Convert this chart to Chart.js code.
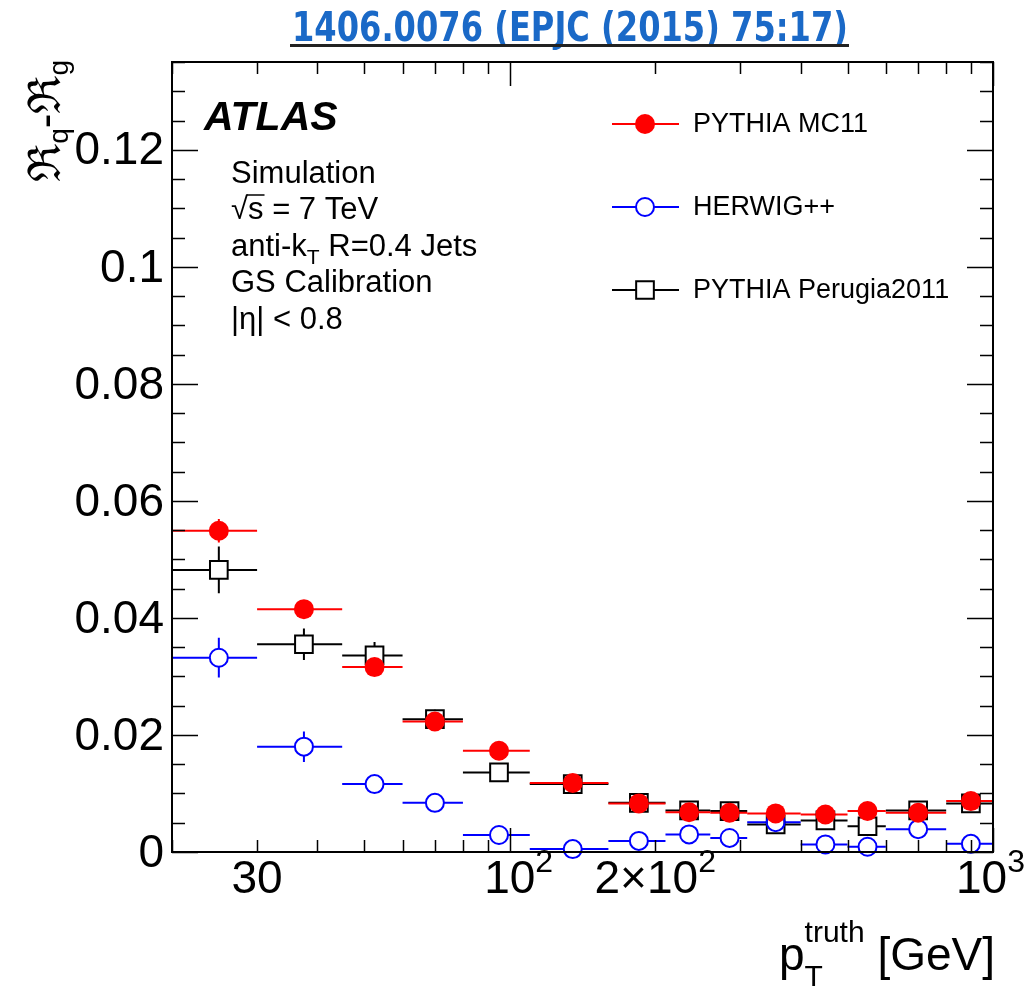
<!DOCTYPE html>
<html>
<head>
<meta charset="utf-8">
<script src="https://cdn.jsdelivr.net/npm/chart.js@4.4.0/dist/chart.umd.min.js"></script>
<style>
  html, body { margin: 0; padding: 0; background: #fff; }
</style>
</head>
<body>
<canvas id="chart" width="1031" height="989"></canvas>
<script>
// bins in pT (GeV)
const binLow     = [20, 30, 45, 60, 80, 110, 160, 210, 260, 310, 400, 500, 600, 800];
const binHigh    = [30, 45, 60, 80, 110, 160, 210, 260, 310, 400, 500, 600, 800, 1000];
const binCenters = [25, 37.5, 52.5, 70, 95, 135, 185, 235, 285, 355, 450, 550, 700, 900];

// Rq - Rg per generator
const pythiaMC11    = [0.0549, 0.0415, 0.0316, 0.0223, 0.0173, 0.0118, 0.0083, 0.0068, 0.0067, 0.0066, 0.0064, 0.0070, 0.0067, 0.0087];
const pythiaMC11Err = [0.0020, 0.0008, 0.0008, 0.0006, 0.0005, 0.0004, 0.0004, 0.0004, 0.0004, 0.0004, 0.0004, 0.0004, 0.0004, 0.0005];
const herwig        = [0.0332, 0.0180, 0.0116, 0.0084, 0.0029, 0.0005, 0.0019, 0.0030, 0.0024, 0.0051, 0.0013, 0.0009, 0.0039, 0.0014];
const herwigErr     = [0.0034, 0.0026, 0.0015, 0.0010, 0.0008, 0.0005, 0.0005, 0.0005, 0.0005, 0.0005, 0.0005, 0.0005, 0.0005, 0.0005];
const perugia       = [0.0482, 0.0355, 0.0336, 0.0227, 0.0136, 0.0116, 0.0084, 0.0071, 0.0070, 0.0047, 0.0054, 0.0044, 0.0071, 0.0083];
const perugiaErr    = [0.0040, 0.0027, 0.0023, 0.0016, 0.0009, 0.0006, 0.0005, 0.0005, 0.0005, 0.0005, 0.0005, 0.0005, 0.0005, 0.0005];

// axis ticks / labels
const yTickValues = [0, 0.02, 0.04, 0.06, 0.08, 0.1, 0.12];
const yTickLabels = ["0", "0.02", "0.04", "0.06", "0.08", "0.1", "0.12"];
const xMajorTicks = [100, 1000];
const xMinorTicks = [20, 30, 40, 50, 60, 70, 80, 90, 200, 300, 400, 500, 600, 700, 800, 900];
const xLabelValues = [30, 100, 200, 1000];
const xLabelBase   = ["30", "10", "2\u00d710", "10"];
const xLabelSup    = ["", "2", "2", "3"];

const infoLines = ["Simulation", "\u221as = 7 TeV", "anti-k_T R=0.4 Jets", "GS Calibration", "|\u03b7| < 0.8"];
const headerText = "1406.0076 (EPJC (2015) 75:17)";

const FONT = '"Liberation Sans", Arial, Helvetica, sans-serif';
function font(size, style) {
    return (style ? style + " " : "") + size + "px " + FONT;
}

// draws a sequence of text pieces (with optional vertical shift)
function drawParts(ctx, parts, x, y, align) {
    let total = 0;
    parts.forEach(p => {
        ctx.font = font(p.size, p.style);
        p.w = ctx.measureText(p.text).width;
        total += p.w;
    });
    let cx = x;
    if (align === "right") cx = x - total;
    if (align === "center") cx = x - total / 2;
    ctx.textAlign = "left";
    parts.forEach(p => {
        ctx.font = font(p.size, p.style);
        ctx.fillText(p.text, cx, y + (p.dy || 0));
        cx += p.w;
    });
    return total;
}

function drawMarker(ctx, ds, x, y) {
    ctx.save();
    ctx.lineWidth = ds.pointBorderWidth;
    ctx.strokeStyle = ds.pointBorderColor;
    ctx.fillStyle = ds.pointBackgroundColor;
    ctx.beginPath();
    if (ds.pointStyle === "rect") {
        const s = ds.pointRadius * Math.SQRT1_2;
        ctx.rect(x - s, y - s, 2 * s, 2 * s);
    } else {
        ctx.arc(x, y, ds.pointRadius, 0, Math.PI * 2);
    }
    ctx.fill();
    if (ds.pointBorderWidth > 0) ctx.stroke();
    ctx.restore();
}

// ROOT-like frame, ticks, error bars, labels and legend
const rootStyle = {
    id: "rootStyle",
    beforeDatasetsDraw(chart) {
        const ctx = chart.ctx;
        const xs = chart.scales.x, ys = chart.scales.y;
        ctx.save();
        // black first, red last (on top)
        for (let d = chart.data.datasets.length - 1; d >= 0; d--) {
            const ds = chart.data.datasets[d];
            ctx.strokeStyle = ds.pointBorderColor;
            ctx.lineWidth = 2;
            ds.data.forEach((pt, i) => {
                const px = xs.getPixelForValue(pt.x);
                const py = ys.getPixelForValue(pt.y);
                const x1 = xs.getPixelForValue(binLow[i]);
                const x2 = xs.getPixelForValue(binHigh[i]);
                const yTop = ys.getPixelForValue(pt.y + ds.errY[i]);
                const yBot = ys.getPixelForValue(pt.y - ds.errY[i]);
                const gap = ds.barGap;
                ctx.beginPath();
                ctx.moveTo(x1, py); ctx.lineTo(px - gap, py);
                ctx.moveTo(px + gap, py); ctx.lineTo(x2, py);
                if (py - yTop > gap) {
                    ctx.moveTo(px, yTop); ctx.lineTo(px, py - gap);
                    ctx.moveTo(px, py + gap); ctx.lineTo(px, yBot);
                }
                ctx.stroke();
            });
        }
        ctx.restore();
    },
    afterDraw(chart) {
        const ctx = chart.ctx;
        const xs = chart.scales.x, ys = chart.scales.y;
        const a = chart.chartArea;
        ctx.save();
        ctx.strokeStyle = "#000";
        ctx.fillStyle = "#000";

        // frame
        ctx.lineWidth = 2;
        ctx.strokeRect(a.left, a.top, a.right - a.left, a.bottom - a.top);

        // y ticks (left and right, inward)
        ctx.lineWidth = 1.5;
        ctx.beginPath();
        for (let v = 0; v <= ys.max + 1e-9; v += 0.005) {
            const py = Math.round(ys.getPixelForValue(v)) + 0.5;
            const major = Math.abs(v / 0.02 - Math.round(v / 0.02)) < 1e-6;
            const len = major ? 26 : 13;
            ctx.moveTo(a.left, py); ctx.lineTo(a.left + len, py);
            ctx.moveTo(a.right, py); ctx.lineTo(a.right - len, py);
        }
        // x ticks (bottom and top, inward)
        xMinorTicks.concat(xMajorTicks).forEach(v => {
            const px = Math.round(xs.getPixelForValue(v)) + 0.5;
            const len = xMajorTicks.includes(v) ? 24 : 12;
            ctx.moveTo(px, a.bottom); ctx.lineTo(px, a.bottom - len);
            ctx.moveTo(px, a.top); ctx.lineTo(px, a.top + len);
        });
        ctx.stroke();

        // y tick labels
        ctx.textBaseline = "middle";
        ctx.textAlign = "right";
        ctx.font = font(46);
        yTickValues.forEach((v, i) => {
            ctx.fillText(yTickLabels[i], 164, ys.getPixelForValue(v) + 2);
        });

        // x tick labels
        ctx.textBaseline = "alphabetic";
        xLabelValues.forEach((v, i) => {
            const px = xs.getPixelForValue(v);
            ctx.font = font(46);
            const wb = ctx.measureText(xLabelBase[i]).width;
            ctx.font = font(32);
            const ws = xLabelSup[i] ? ctx.measureText(xLabelSup[i]).width : 0;
            let start = xLabelBase[i] === "10" ? px - wb / 2 : px - (wb + ws) / 2;
            start = Math.min(start, chart.width - 6 - wb - ws);
            drawParts(ctx, [
                { text: xLabelBase[i], size: 46 },
                { text: xLabelSup[i], size: 32, dy: -21 }
            ], start, 893, "left");
        });

        // x axis title: p_T^truth [GeV]
        ctx.font = font(30);
        const wTruth = ctx.measureText("truth").width;
        ctx.font = font(46);
        const wGeV = ctx.measureText(" [GeV]").width;
        const wp = ctx.measureText("p").width;
        const xEnd = 995;
        const xGeV = xEnd - wGeV;
        const xSup = xGeV - wTruth;
        const xP = xSup - wp;
        const base = 970;
        ctx.textAlign = "left";
        ctx.font = font(46);
        ctx.fillText("p", xP, base);
        ctx.fillText(" [GeV]", xGeV, base);
        ctx.font = font(30);
        ctx.fillText("truth", xSup, base - 28);
        ctx.fillText("T", xSup, base + 16);

        // y axis title (rotated)
        ctx.save();
        ctx.translate(60, 60);
        ctx.rotate(-Math.PI / 2);
        drawParts(ctx, [
            { text: "\u211c", size: 45 },
            { text: "q", size: 28, dy: 8 },
            { text: "-", size: 44 },
            { text: "\u211c", size: 45 },
            { text: "g", size: 28, dy: 8 }
        ], 0, 0, "right");
        ctx.restore();

        // ATLAS label
        ctx.textAlign = "left";
        ctx.font = font(41, "bold italic");
        ctx.fillText("ATLAS", 204, 130);

        // info text
        const infoX = 231;
        const infoSize = 31;
        const infoBase = [183, 219, 256, 292, 329];
        ctx.font = font(infoSize);
        ctx.fillText(infoLines[0], infoX, infoBase[0]);
        // sqrt(s) with overline
        ctx.fillText("\u221a", infoX, infoBase[1]);
        const wRad = ctx.measureText("\u221a").width;
        const wS = ctx.measureText("s").width;
        ctx.fillText("s = 7 TeV", infoX + wRad, infoBase[1]);
        ctx.lineWidth = 1.5;
        ctx.beginPath();
        ctx.moveTo(infoX + wRad - 1, infoBase[1] - 24);
        ctx.lineTo(infoX + wRad + wS + 1, infoBase[1] - 24);
        ctx.stroke();
        drawParts(ctx, [
            { text: "anti-k", size: infoSize },
            { text: "T", size: 21, dy: 8 },
            { text: " R=0.4 Jets", size: infoSize }
        ], infoX, infoBase[2], "left");
        ctx.font = font(infoSize);
        ctx.fillText(infoLines[3], infoX, infoBase[3]);
        ctx.fillText(infoLines[4], infoX, infoBase[4]);

        // legend
        const legendY = [124, 207, 290];
        chart.data.datasets.forEach((ds, i) => {
            const y = legendY[i];
            const x1 = 612, x2 = 679, xm = 645;
            ctx.strokeStyle = ds.pointBorderColor;
            ctx.lineWidth = 2;
            ctx.beginPath();
            ctx.moveTo(x1, y); ctx.lineTo(xm - ds.barGap, y);
            ctx.moveTo(xm + ds.barGap, y); ctx.lineTo(x2, y);
            ctx.stroke();
            drawMarker(ctx, ds, xm, y);
            ctx.fillStyle = "#000";
            ctx.font = font(27);
            ctx.textBaseline = "middle";
            ctx.fillText(ds.label, 693, y + 1);
            ctx.textBaseline = "alphabetic";
        });

        // publication header (condensed to the reference width)
        ctx.font = 'bold 40px "DejaVu Sans", "Liberation Sans", sans-serif';
        ctx.textAlign = "left";
        ctx.fillStyle = "#1a69c7";
        const wHead = ctx.measureText(headerText).width;
        const headLeft = 292, headWidth = 556;
        ctx.save();
        ctx.translate(headLeft, 41);
        ctx.scale(headWidth / wHead, 1);
        ctx.fillText(headerText, 0, 0);
        ctx.restore();
        ctx.strokeStyle = "#222";
        ctx.lineWidth = 3;
        ctx.beginPath();
        ctx.moveTo(290, 45.5); ctx.lineTo(849, 45.5);
        ctx.stroke();

        ctx.restore();
    }
};

function points(values) {
    return binCenters.map((c, i) => ({ x: c, y: values[i] }));
}

const ctx = document.getElementById("chart").getContext("2d");
new Chart(ctx, {
    type: "scatter",
    data: {
        datasets: [
            {
                label: "PYTHIA MC11",
                data: points(pythiaMC11),
                errY: pythiaMC11Err,
                barGap: 0,
                pointStyle: "circle",
                pointRadius: 10,
                pointBackgroundColor: "#ff0000",
                pointBorderColor: "#ff0000",
                pointBorderWidth: 0,
                clip: false
            },
            {
                label: "HERWIG++",
                data: points(herwig),
                errY: herwigErr,
                barGap: 9,
                pointStyle: "circle",
                pointRadius: 9,
                pointBackgroundColor: "rgba(0,0,0,0)",
                pointBorderColor: "#0000ff",
                pointBorderWidth: 2,
                clip: false
            },
            {
                label: "PYTHIA Perugia2011",
                data: points(perugia),
                errY: perugiaErr,
                barGap: 9,
                pointStyle: "rect",
                pointRadius: 12.5,
                pointBackgroundColor: "rgba(0,0,0,0)",
                pointBorderColor: "#000000",
                pointBorderWidth: 2,
                clip: false
            }
        ]
    },
    options: {
        responsive: false,
        animation: false,
        events: [],
        layout: { padding: { left: 172, right: 38, top: 62, bottom: 137 } },
        plugins: {
            legend: { display: false },
            tooltip: { enabled: false }
        },
        scales: {
            x: { type: "logarithmic", min: 20, max: 1000, display: false },
            y: { type: "linear", min: 0, max: 0.135, display: false }
        }
    },
    plugins: [rootStyle]
});
</script>
</body>
</html>
